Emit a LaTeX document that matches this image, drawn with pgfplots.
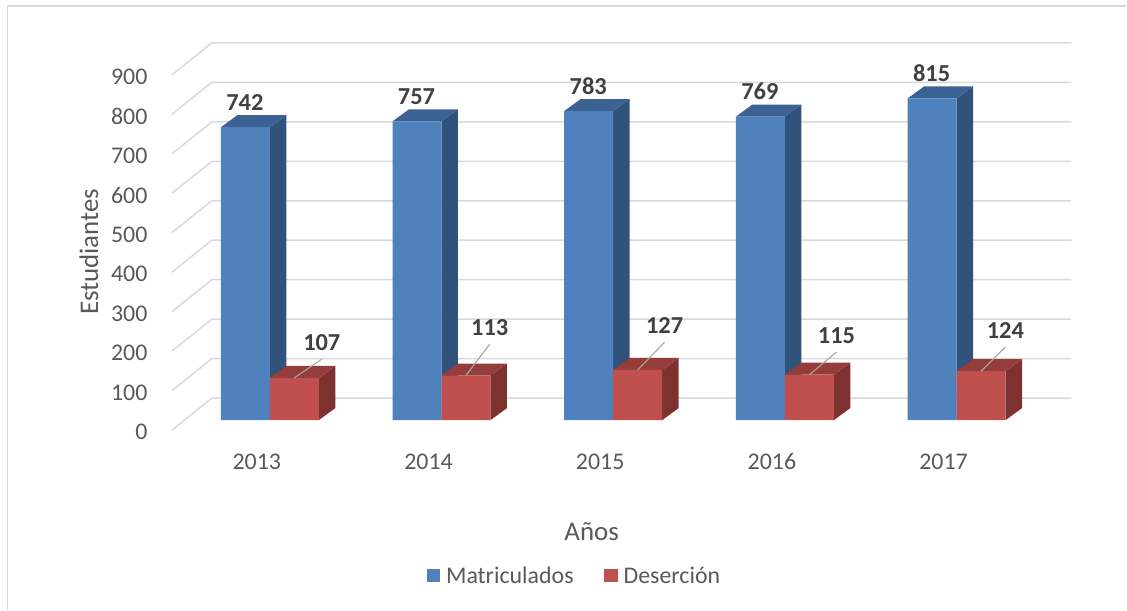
\documentclass[border=0pt]{standalone}
\usepackage{pgfplots}
\usepackage{pgfplotstable}
\usepackage{fontspec}
\setmainfont{Carlito}
\pgfplotsset{compat=1.18}
\definecolor{bluef}{HTML}{4F81BD}
\definecolor{blues}{HTML}{30527B}
\definecolor{bluet}{HTML}{3B6292}
\definecolor{redf}{HTML}{C0504D}
\definecolor{reds}{HTML}{7D3230}
\definecolor{redt}{HTML}{953D3A}
\definecolor{gridc}{HTML}{D9D9D9}
\definecolor{txt}{HTML}{595959}
\definecolor{lab}{HTML}{404040}
\pgfplotstableread{
year mat des
2013 742 107
2014 757 113
2015 783 127
2016 769 115
2017 815 124
}\data
% depth faces of a bar: year, left, right offset (years), value, top colour, side colour
\newcommand\depth[6]{%
  \addplot[fill=#6,draw=none,forget plot] coordinates {({#1+#3},0) ({#1+#3+0.09604},30.4) ({#1+#3+0.09604},{#4+30.4}) ({#1+#3},#4)};
  \addplot[fill=#5,draw=none,forget plot] coordinates {({#1+#2},#4) ({#1+#2+0.09604},{#4+30.4}) ({#1+#3+0.09604},{#4+30.4}) ({#1+#3},#4)};
}
\newcommand\redlabel[4]{%
  \draw[color=black!35,line width=1.1bp] (axis cs:{#1+0.1426},#2) -- (axis cs:{#3},{#4-43});
  \node[font=\fontsize{24.5}{26}\selectfont\bfseries,text=lab,inner sep=0pt] at (axis cs:#3,#4) {#2};
}
\begin{document}
\begin{tikzpicture}
\begin{axis}[
  scale only axis, width=1127bp, height=610bp,
  xmin=2011.42841, xmax=2017.98836, ymin=-480, ymax=1064.3,
  clip=false,
  axis line style={draw=none}, tick style={draw=none},
  xtick={2013,2014,2015,2016,2017},
  ytick={0,100,...,900},
  /pgf/number format/assume math mode=true,
  x tick label style={/pgf/number format/1000 sep=, font=\fontsize{24}{26}\selectfont, text=txt, anchor=center, xshift=-13bp, yshift=148bp},
  y tick label style={font=\fontsize{24}{26}\selectfont, text=txt, anchor=east, xshift=151bp, yshift=-12bp},
  xlabel={Años}, ylabel={Estudiantes},
  xlabel style={at={(axis description cs:0.5253,0.1279)},anchor=center,font=\fontsize{27}{29}\selectfont,text=txt},
  ylabel style={at={(axis description cs:0.0790,0.5869)},anchor=center,rotate=0,font=\fontsize{27}{29}\selectfont,text=txt},
  legend columns=2,
  legend style={draw=none,fill=none,at={(axis description cs:0.5102,0.0557)},anchor=center,
    font=\fontsize{24}{26}\selectfont,text=txt,inner sep=0pt,
    /tikz/every odd column/.append style={column sep=4bp},
    /tikz/every even column/.append style={column sep=28bp}},
]
% chart frame
\draw[color=gridc,line width=1.5bp] (axis description cs:0.0067,0) -- (axis description cs:0.0067,0.9902) -- (axis description cs:1,0.9902);
% back wall and side wall grid
\pgfplotsinvokeforeach{0,100,...,900}{
  \addplot[color=gridc,line width=1.5bp,forget plot] coordinates {(2012.42957,{#1-25.3}) (2012.66240,{#1+55.7}) (2017.66822,{#1+55.7})};
}
% Matriculados
\depth{2013}{-0.28522}{0}{742}{bluet}{blues}
\depth{2014}{-0.28522}{0}{757}{bluet}{blues}
\depth{2015}{-0.28522}{0}{783}{bluet}{blues}
\depth{2016}{-0.28522}{0}{769}{bluet}{blues}
\depth{2017}{-0.28522}{0}{815}{bluet}{blues}
\addplot[ybar,bar width=49bp,bar shift=-24.5bp,fill=bluef,draw=none,
  legend image code/.code={\fill[bluef] (0bp,-6.5bp) rectangle (13bp,6.5bp);},
  nodes near coords,
  every node near coord/.append style={font=\fontsize{24.5}{26}\selectfont\bfseries,text=lab,anchor=center,xshift=-25bp,yshift=25bp,/pgf/number format/assume math mode=true}]
  table[x=year,y=mat] {\data};
\addlegendentry{Matriculados}
% Deserción
\depth{2013}{0}{0.28522}{107}{redt}{reds}
\depth{2014}{0}{0.28522}{113}{redt}{reds}
\depth{2015}{0}{0.28522}{127}{redt}{reds}
\depth{2016}{0}{0.28522}{115}{redt}{reds}
\depth{2017}{0}{0.28522}{124}{redt}{reds}
\addplot[ybar,bar width=49bp,bar shift=24.5bp,fill=redf,draw=none,
  legend image code/.code={\fill[redf] (0bp,-6.5bp) rectangle (14bp,6.5bp);}]
  table[x=year,y=des] {\data};
\addlegendentry{Deserción}
\redlabel{2013}{107}{2013.3027}{197.5}
\redlabel{2014}{113}{2014.2806}{235.4}
\redlabel{2015}{127}{2015.2992}{240.5}
\redlabel{2016}{115}{2016.3003}{215.2}
\redlabel{2017}{124}{2017.2840}{227.8}
\end{axis}
\end{tikzpicture}
\end{document}
